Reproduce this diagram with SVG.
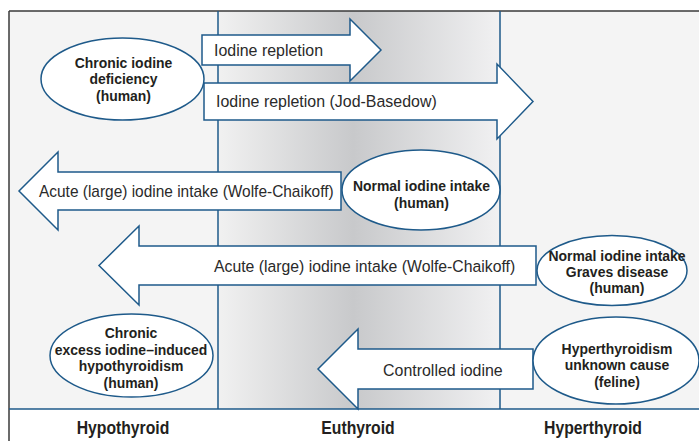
<svg xmlns="http://www.w3.org/2000/svg" width="699" height="441" viewBox="0 0 699 441">
<defs>
<linearGradient id="eu" x1="218" y1="0" x2="500" y2="0" gradientUnits="userSpaceOnUse">
<stop offset="0" stop-color="#f1f1f1"/>
<stop offset="0.48" stop-color="#c8c9cb"/>
<stop offset="1" stop-color="#f1f1f2"/>
</linearGradient>
<style>
.ln{stroke:#1e5a8a;stroke-width:1.5;fill:none}
.arr{fill:#ffffff;stroke:#1e5a8a;stroke-width:1.5;stroke-linejoin:miter}
.ell{fill:#ffffff;stroke:#1e5a8a;stroke-width:1.5}
.t{font-family:"Liberation Sans",Arial,sans-serif;font-size:16.8px;fill:#2a2a2a}
.b{font-family:"Liberation Sans",Arial,sans-serif;font-size:15.5px;font-weight:bold;fill:#231f20;text-anchor:middle}
.h{font-family:"Liberation Sans",Arial,sans-serif;font-size:17.5px;font-weight:bold;fill:#231f20;text-anchor:middle}
</style>
</defs>
<rect x="0" y="0" width="699" height="441" fill="#ffffff"/>
<g id="background">
<rect x="9" y="11" width="690" height="398" fill="#f4f4f4"/>
<rect x="218" y="11" width="282" height="398" fill="url(#eu)"/>
<line x1="9" y1="11" x2="699" y2="11" stroke="#3a3a3a" stroke-width="1.5"/>
<line x1="9" y1="11" x2="9" y2="441" stroke="#3a3a3a" stroke-width="1.5"/>
<line class="ln" x1="218" y1="11" x2="218" y2="409"/>
<line class="ln" x1="500" y1="11" x2="500" y2="409"/>
<line class="ln" x1="9" y1="409" x2="699" y2="409"/>
</g>
<g id="connectors">
<path class="arr" d="M202,35 H350 V19 L381,50 L350,81 V65 H202 Z"/>
<path class="arr" d="M204,83 H497 V64 L533,101.5 L497,139 V120 H204 Z"/>
<path class="arr" d="M341,172 H58 V152 L19,191 L58,230 V210 H341 Z"/>
<path class="arr" d="M536,246 H139 V226 L99,265.5 L139,305 V285 H536 Z"/>
<path class="arr" d="M533,349 H358 V329 L318,369 L358,409 V389 H533 Z"/>
<text class="t" transform="translate(214,56) scale(0.95,1)">Iodine repletion</text>
<text class="t" transform="translate(216,107) scale(0.95,1)">Iodine repletion (Jod-Basedow)</text>
<text class="t" transform="translate(39,197) scale(0.92,1)">Acute (large) iodine intake (Wolfe-Chaikoff)</text>
<text class="t" transform="translate(214,272) scale(0.94,1)">Acute (large) iodine intake (Wolfe-Chaikoff)</text>
<text class="t" transform="translate(383,376) scale(0.95,1)">Controlled iodine</text>
</g>
<g id="n_chronic_deficiency">
<ellipse class="ell" cx="122.5" cy="79" rx="81.5" ry="41"/>
<g transform="translate(123.5,0) scale(0.9,1)">
<text class="b" x="0" y="68">Chronic iodine</text>
<text class="b" x="0" y="84.5">deficiency</text>
<text class="b" x="0" y="101">(human)</text>
</g>
</g>
<g id="n_normal_intake">
<ellipse class="ell" cx="421" cy="190" rx="79" ry="40"/>
<g transform="translate(421.5,0) scale(0.9,1)">
<text class="b" x="0" y="191">Normal iodine intake</text>
<text class="b" x="0" y="208">(human)</text>
</g>
</g>
<g id="n_graves">
<ellipse class="ell" cx="612" cy="270.5" rx="75" ry="35"/>
<g transform="translate(617,0) scale(0.9,1)">
<text class="b" x="0" y="261">Normal iodine intake</text>
<text class="b" x="0" y="277">Graves disease</text>
<text class="b" x="0" y="293">(human)</text>
</g>
</g>
<g id="n_feline">
<ellipse class="ell" cx="616" cy="360.5" rx="83" ry="43.5"/>
<g transform="translate(617,0) scale(0.9,1)">
<text class="b" x="0" y="354">Hyperthyroidism</text>
<text class="b" x="0" y="370.5">unknown cause</text>
<text class="b" x="0" y="387">(feline)</text>
</g>
</g>
<g id="n_chronic_excess">
<ellipse class="ell" cx="131.5" cy="355.5" rx="81.5" ry="41.5"/>
<g transform="translate(131,0) scale(0.9,1)">
<text class="b" x="0" y="338">Chronic</text>
<text class="b" x="0" y="355">excess iodine–induced</text>
<text class="b" x="0" y="371.5">hypothyroidism</text>
<text class="b" x="0" y="388">(human)</text>
</g>
</g>
<g id="labels">
<g transform="translate(123,0) scale(0.9,1)"><text class="h" x="0" y="434">Hypothyroid</text></g>
<g transform="translate(358,0) scale(0.9,1)"><text class="h" x="0" y="434">Euthyroid</text></g>
<g transform="translate(593,0) scale(0.9,1)"><text class="h" x="0" y="434">Hyperthyroid</text></g>
</g>
</svg>
